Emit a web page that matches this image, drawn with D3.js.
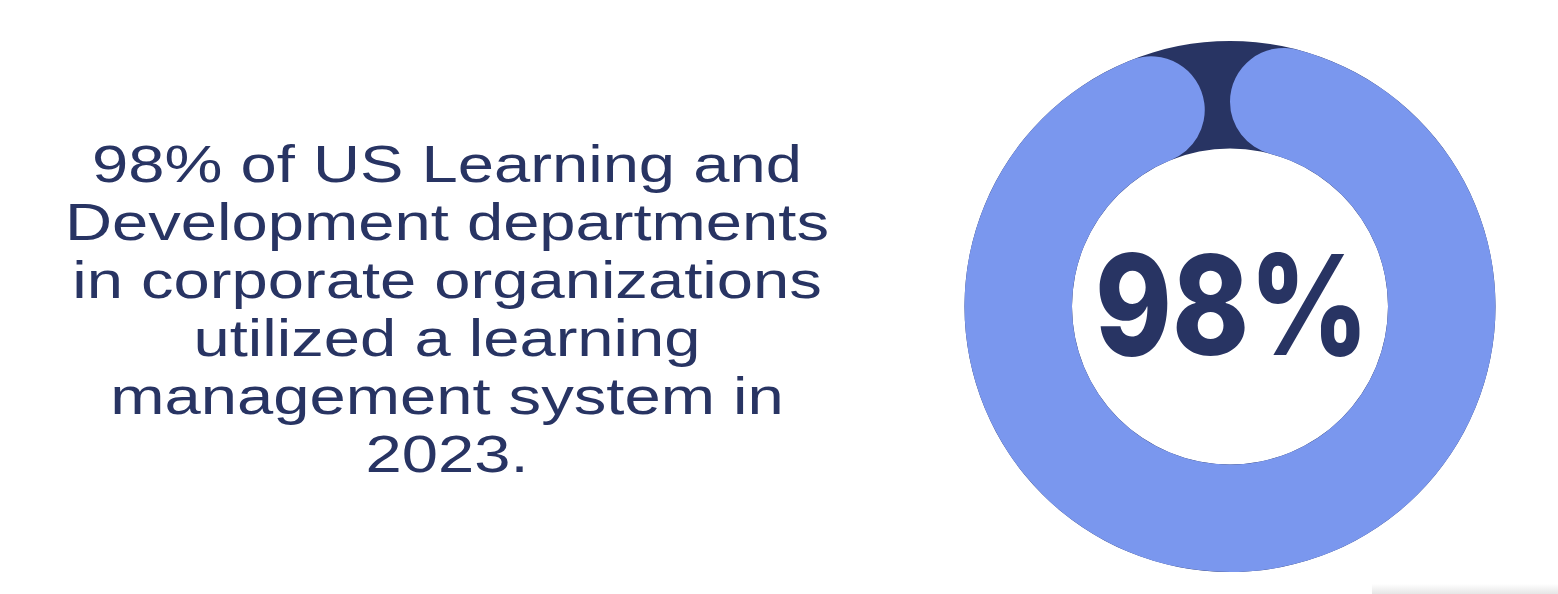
<!DOCTYPE html>
<html>
<head>
<meta charset="utf-8">
<script src="https://cdn.jsdelivr.net/npm/d3@7"></script>
<style>
  html, body { margin: 0; padding: 0; background: #fff; }
  svg { display: block; }
</style>
</head>
<body>
<div id="chart"></div>
<script>
// Values
const shareLabel = '98%';
const shareValues = [98, 2];   // used by LMS, not used
const statementLines = [
    '98% of US Learning and',
    'Development departments',
    'in corporate organizations',
    'utilized a learning',
    'management system in',
    '2023.'
];

const width = 1558;
const height = 594;
const navy = '#283463';
const blue = '#7a97ee';

const svg = d3.select('#chart')
    .append('svg')
    .attr('width', width)
    .attr('height', height);

// faint shadow in the bottom right corner
const defs = svg.append('defs');
const shade = defs.append('linearGradient')
    .attr('id', 'shade')
    .attr('x1', 0).attr('y1', 0).attr('x2', 0).attr('y2', 1);
shade.append('stop').attr('offset', '0%').attr('stop-color', '#fff');
shade.append('stop').attr('offset', '100%').attr('stop-color', '#e6e6e6');
svg.append('rect')
    .attr('x', 1372)
    .attr('y', 584)
    .attr('width', width - 1372)
    .attr('height', 10)
    .attr('fill', 'url(#shade)');

// Statement text, centred in the left column
const textX = 447;
const firstBaseline = 182;
const lineStep = 58;
const targetWidest = 764;

const lines = svg.append('g')
    .attr('font-family', '"Liberation Sans", Arial, sans-serif')
    .attr('font-size', '51.5px')
    .attr('font-weight', 400)
    .attr('fill', navy)
    .attr('text-anchor', 'middle');

const lineNodes = lines.selectAll('text')
    .data(statementLines)
    .join('text')
    .attr('x', textX)
    .attr('y', (d, i) => firstBaseline + i * lineStep)
    .text(d => d);

// stretch the substitute font horizontally to the reference's measure
const natural = lineNodes.nodes().map(n => n.getComputedTextLength());
const stretch = targetWidest / d3.max(natural);
lineNodes
    .attr('textLength', (d, i) => natural[i] * stretch)
    .attr('lengthAdjust', 'spacingAndGlyphs');

// Donut
const cx = 1230;
const cy = 306.5;
const outerR = 265.5;
const innerR = 158;

const g = svg.append('g')
    .attr('transform', `translate(${cx}, ${cy})`);

const pie = d3.pie().sort(null).value(d => d);
const slices = pie(shareValues);

// full ring in navy underneath
g.append('path')
    .attr('d', d3.arc()
        .innerRadius(innerR)
        .outerRadius(outerR)
        .startAngle(0)
        .endAngle(2 * Math.PI))
    .attr('fill', navy);

// share arc with round ends on top
g.append('path')
    .attr('d', d3.arc()
        .innerRadius(innerR)
        .outerRadius(outerR)
        .cornerRadius((outerR - innerR) / 2)(slices[0]))
    .attr('fill', blue);

// big label in the middle
const label = g.append('text')
    .attr('x', 2)
    .attr('y', 48)
    .attr('text-anchor', 'middle')
    .attr('font-family', 'Inter, "Noto Sans", sans-serif')
    .attr('font-size', '139px')
    .attr('font-weight', 800)
    .attr('fill', navy)
    .text(shareLabel);
label.attr('textLength', 274).attr('lengthAdjust', 'spacingAndGlyphs');
</script>
</body>
</html>
